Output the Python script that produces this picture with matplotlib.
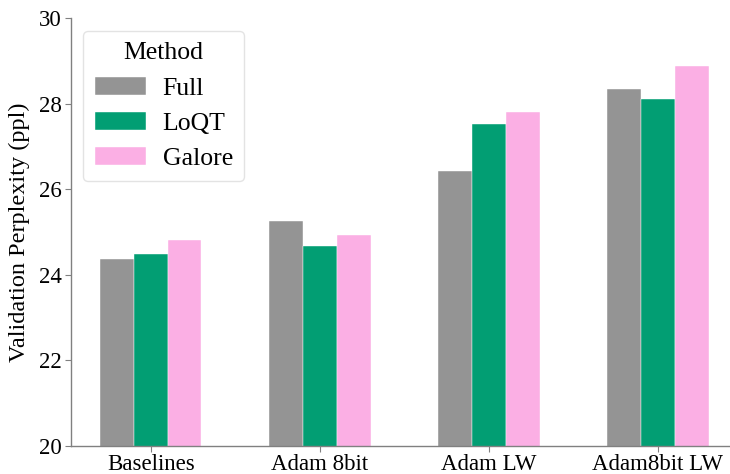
import matplotlib
matplotlib.use("Agg")
import matplotlib.pyplot as plt
import numpy as np

categories = ["Baselines", "Adam 8bit", "Adam LW", "Adam8bit LW"]
methods = ["Full", "LoQT", "Galore"]
full = [24.38, 25.26, 26.43, 28.34]
loqt = [24.48, 24.69, 27.53, 28.12]
galore = [24.82, 24.93, 27.82, 28.90]
colors = ["#949494", "#029e73", "#fbafe4"]
yticks = [20, 22, 24, 26, 28, 30]

plt.rcParams['font.family'] = ['Liberation Serif', 'DejaVu Serif']
plt.rcParams['font.size'] = 17

fig = plt.figure(figsize=(7.3, 4.74), dpi=100)
ax = fig.add_axes([70.7/730, 28/474, 1 - 70.7/730, (446 - 18.5)/474])

x = np.arange(len(categories))
w = 0.2
for i, (vals, name, c) in enumerate(zip([full, loqt, galore], methods, colors)):
    ax.bar(x + (i - 1) * w, vals, width=w, color=c, label=name,
           edgecolor="white", linewidth=0.3)

ax.set_xlim(-0.473, 3.426)
ax.set_ylim(20, 30)
ax.set_yticks(yticks)
ax.set_xticks(x)
ax.set_xticklabels(categories)
ax.set_ylabel("Validation Perplexity (ppl)", fontsize=17.5, labelpad=6)
for s in ["top", "right"]:
    ax.spines[s].set_visible(False)
for s in ["left", "bottom"]:
    ax.spines[s].set_color("#808080")
    ax.spines[s].set_linewidth(1.0)
ax.tick_params(axis="both", colors="#808080", labelcolor="black", length=4,
               labelsize=16.5)
ax.tick_params(axis="x", pad=1.5)
ax.tick_params(axis="y", pad=2.5)

leg = ax.legend(title="Method", loc="upper left", bbox_to_anchor=(0.0186, 0.971),
                borderaxespad=0, fontsize=18.5, title_fontsize=18.5,
                handlelength=2.0, handleheight=0.7, labelspacing=0.47,
                handletextpad=0.65, borderpad=0.45, frameon=True, fancybox=True)
leg.get_frame().set_edgecolor("#dddddd")

fig.savefig("out.png", dpi=100)
